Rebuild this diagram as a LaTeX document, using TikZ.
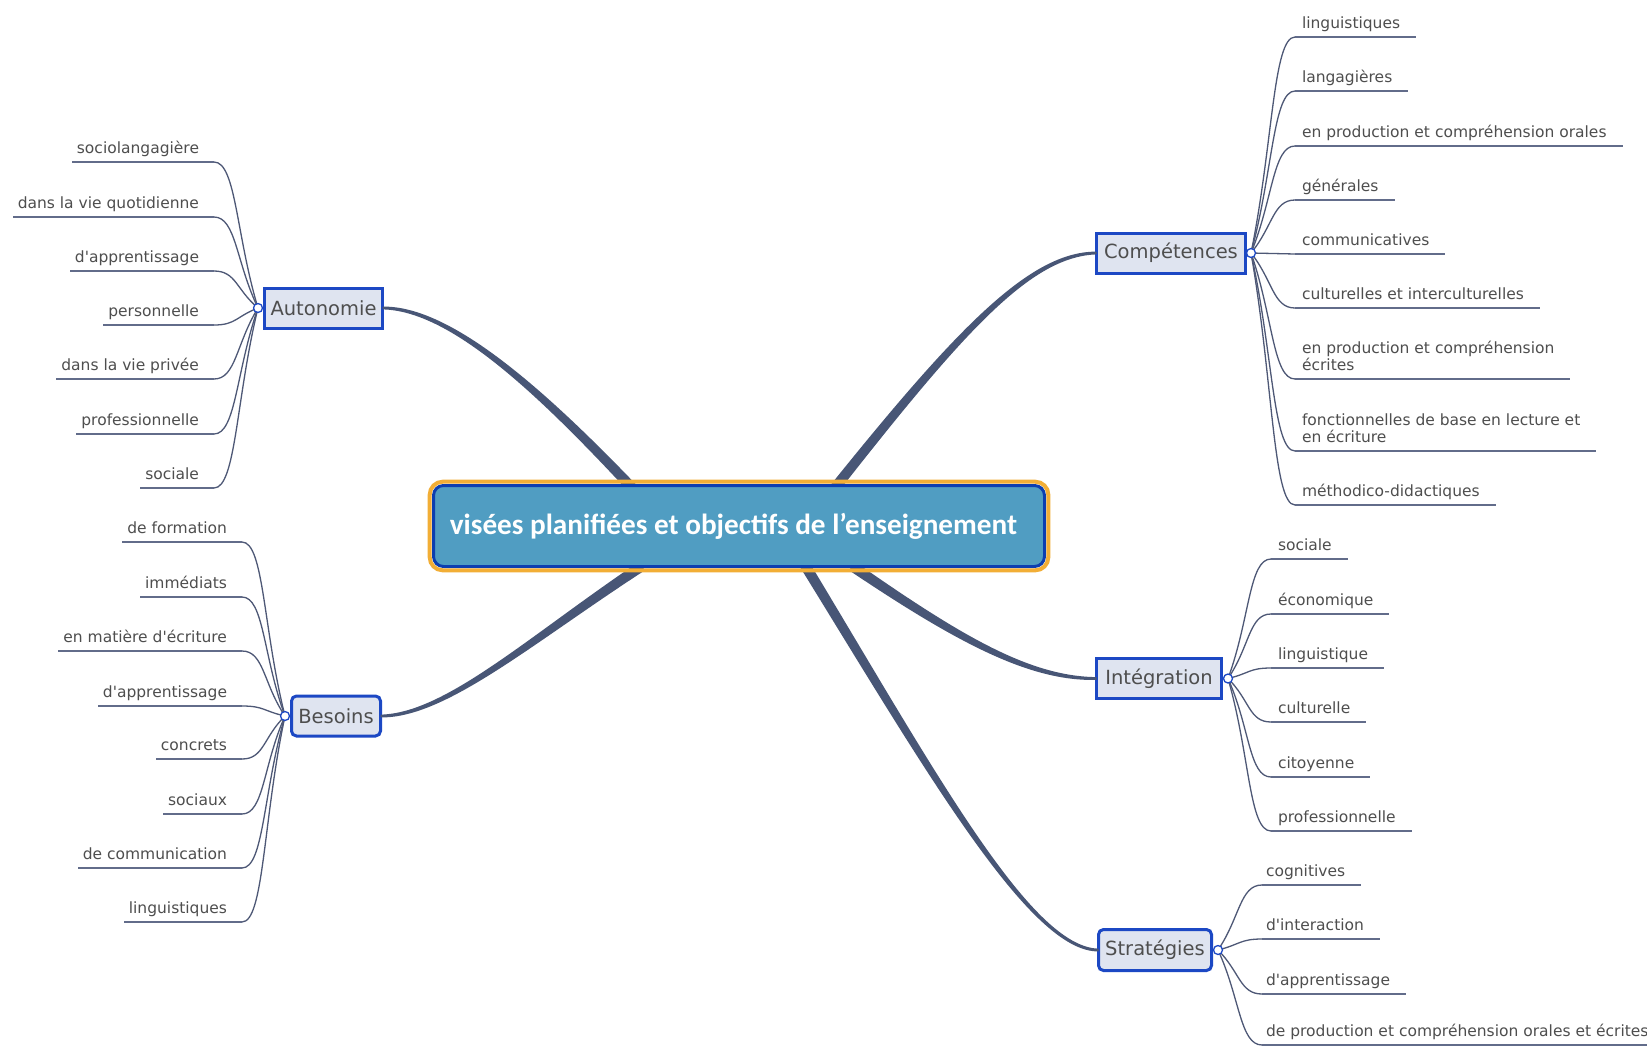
\documentclass[tikz,border=0pt]{standalone}
\usepackage{fontspec}
\usetikzlibrary{calc}
\newfontfamily\leaffont{DejaVu Sans}
\newfontfamily\ctrfont{Carlito}
\definecolor{maincol}{RGB}{72,86,118}
\definecolor{leafcol}{RGB}{78,88,118}
\definecolor{ulcol}{RGB}{98,108,138}
\definecolor{boxfill}{RGB}{223,228,240}
\definecolor{boxdraw}{RGB}{28,72,196}
\definecolor{ctrfill}{RGB}{80,157,194}
\definecolor{ctrdraw}{RGB}{12,62,176}
\definecolor{ctrorange}{RGB}{242,174,54}
\definecolor{txtgray}{RGB}{78,78,78}
\newcommand\mytaper[4]{%
 \fill[maincol] ($(#1)!1.4pt!-90:(#2)$) .. controls ($(#2)!2.6pt!90:(#1)$) and ($(#3)!4pt!-90:(#4)$) .. ($(#4)!5.2pt!90:(#3)$) -- ($(#4)!5.2pt!-90:(#3)$) .. controls ($(#3)!4pt!90:(#4)$) and ($(#2)!2.6pt!-90:(#1)$) .. ($(#1)!1.4pt!90:(#2)$) -- cycle;}
\tikzset{
  mainbox/.style={draw=boxdraw, fill=boxfill, line width=3pt, inner sep=0pt, outer sep=0pt,
    text=txtgray, font=\fontsize{19.5pt}{22pt}\leaffont},
  roundbox/.style={mainbox, rounded corners=5pt},
  dot/.style={circle, draw=boxdraw, fill=white, line width=1.3pt, minimum size=9pt, inner sep=0pt},
  leaftext/.style={inner sep=0pt, outer sep=0pt, text=txtgray, align=left, text depth=4pt,
    font=\fontsize{15.5pt}{16.5pt}\leaffont},
  leafline/.style={draw=leafcol, line width=1.3pt},
  underl/.style={draw=ulcol, line width=2pt},
}
\begin{document}
\begin{tikzpicture}[x=1pt,y=-1pt]
\useasboundingbox[fill=white] (0,0) rectangle (1647,1047);

% main nodes
\node[mainbox, minimum width=118pt, minimum height=40pt] (aut) at (323.5,308) {Autonomie};
\node[mainbox, minimum width=149pt, minimum height=40pt] (cmp) at (1171,253) {Compétences};
\node[mainbox, minimum width=125pt, minimum height=40pt] (itg) at (1159,678.5) {Intégration};
\node[roundbox, minimum width=113pt, minimum height=41pt] (str) at (1155,950) {Stratégies};
\node[roundbox, minimum width=89pt, minimum height=40pt] (bes) at (336,716) {Besoins};

% main connectors (tapered)
\coordinate (a1) at (450,308); \coordinate (a2) at (540,390); \coordinate (aq) at (636,492);
\coordinate (c1) at (1030,254); \coordinate (c2) at (960,330); \coordinate (cq) at (830,494);
\coordinate (b1) at (445,716); \coordinate (b2) at (530,640); \coordinate (bq) at (642,566);
\coordinate (i1) at (1030,679); \coordinate (i2) at (960,640); \coordinate (iq) at (852,566);
\coordinate (s1) at (1030,950); \coordinate (s2) at (930,770); \coordinate (sq) at (803,562);
\mytaper{aut.east}{a1}{a2}{aq}
\mytaper{cmp.west}{c1}{c2}{cq}
\mytaper{bes.east}{b1}{b2}{bq}
\mytaper{itg.west}{i1}{i2}{iq}
\mytaper{str.west}{s1}{s2}{sq}

% central node
\node[draw=ctrdraw, fill=ctrfill, line width=3pt, rounded corners=10pt, inner sep=0pt, outer sep=0pt,
  minimum width=611pt, minimum height=81pt, text=white,
  font=\fontsize{29.2pt}{31pt}\ctrfont\bfseries] (ctr) at (739,526)
  {\kern-11pt visées planifiées et objectifs de l’enseignement};
\draw[ctrorange, line width=4pt, rounded corners=13pt]
  ($(ctr.south west)+(-3.8,3.8)$) rectangle ($(ctr.north east)+(3.8,-3.8)$);

% circle positions
\coordinate (auc) at (258,308);
\coordinate (cpc) at (1251,253);
\coordinate (igc) at (1228,678.5);
\coordinate (stc) at (1218,950);
\coordinate (bec) at (285,716);

% Autonomie leaves
\foreach \yy/\lbl [count=\i] in {162/sociolangagière, 217/dans la vie quotidienne,
  271/d\textquotesingle apprentissage, 325/personnelle, 379/dans la vie privée,
  434/professionnelle, 488/sociale}{
  \node[leaftext, anchor=south east] (au\i) at (199,\yy-5) {\lbl};
  \pgfmathsetmacro\dy{(\yy-308)/2}
  \draw[leafline] (auc) .. controls +(-22,\dy) and +(22,0) .. (214,\yy);
  \draw[underl] (214,\yy) -- ($(au\i.west |- 0,\yy)+(-5,0)$);
}
% Besoins leaves
\foreach \yy/\lbl [count=\i] in {542/de formation, 597/immédiats, 651/en matière d\textquotesingle écriture,
  706/d\textquotesingle apprentissage, 759/concrets, 814/sociaux, 868/de communication, 922/linguistiques}{
  \node[leaftext, anchor=south east] (be\i) at (227,\yy-5) {\lbl};
  \pgfmathsetmacro\dy{(\yy-716)/2}
  \draw[leafline] (bec) .. controls +(-22,\dy) and +(22,0) .. (242,\yy);
  \draw[underl] (242,\yy) -- ($(be\i.west |- 0,\yy)+(-5,0)$);
}
% Compétences leaves
\foreach \yy/\lbl [count=\i] in {37/linguistiques, 91/langagières, 146/en production et compréhension orales,
  200/générales, 254/communicatives, 308/culturelles et interculturelles,
  379/{en production et compréhension\\écrites}, 451/{fonctionnelles de base en lecture et\\en écriture},
  505/méthodico-didactiques}{
  \node[leaftext, anchor=south west] (cp\i) at (1302,\yy-5) {\lbl};
  \pgfmathsetmacro\dy{(\yy-253)/2}
  \draw[leafline] (cpc) .. controls +(22,\dy) and +(-22,0) .. (1295,\yy);
  \draw[underl] (1295,\yy) -- ($(cp\i.east |- 0,\yy)+(16,0)$);
}
% Intégration leaves
\foreach \yy/\lbl [count=\i] in {559/sociale, 614/économique, 668/linguistique, 722/culturelle,
  777/citoyenne, 831/professionnelle}{
  \node[leaftext, anchor=south west] (ig\i) at (1278,\yy-5) {\lbl};
  \pgfmathsetmacro\dy{(\yy-678.5)/2}
  \draw[leafline] (igc) .. controls +(22,\dy) and +(-22,0) .. (1271,\yy);
  \draw[underl] (1271,\yy) -- ($(ig\i.east |- 0,\yy)+(16,0)$);
}
% Stratégies leaves
\foreach \yy/\lbl [count=\i] in {885/cognitives, 939/d\textquotesingle interaction, 994/d\textquotesingle apprentissage,
  1045/de production et compréhension orales et écrites}{
  \node[leaftext, anchor=south west] (st\i) at (1266,\yy-5) {\lbl};
  \pgfmathsetmacro\dy{(\yy-950)/2}
  \draw[leafline] (stc) .. controls +(22,\dy) and +(-22,0) .. (1262,\yy);
  \draw[underl] (1262,\yy) -- ($(st\i.east |- 0,\yy)+(16,0)$);
}

% connection dots
\node[dot] (aud) at (auc) {};
\node[dot] (cpd) at (cpc) {};
\node[dot] (igd) at (igc) {};
\node[dot] (std) at (stc) {};
\node[dot] (bed) at (bec) {};
\end{tikzpicture}
\end{document}
